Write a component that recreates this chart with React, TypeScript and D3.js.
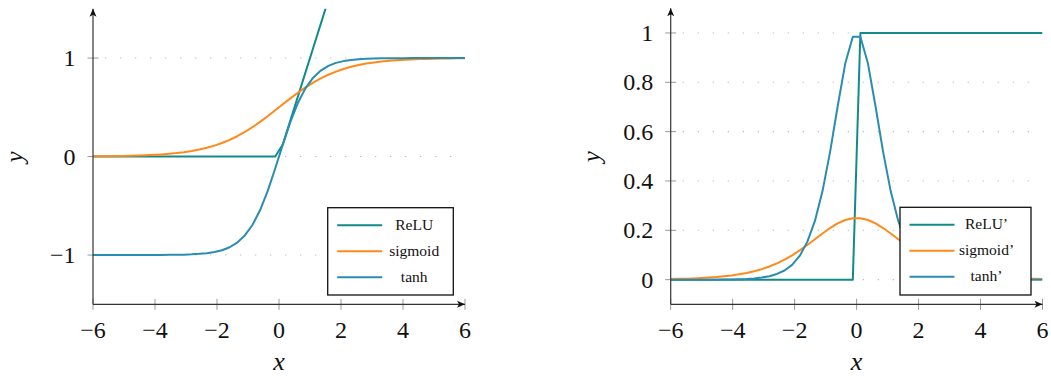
import React from "react";
import * as d3 from "d3";

// ---------- data ----------
const xValues = [
  -6.0, -5.755, -5.51, -5.265, -5.02, -4.776, -4.531, -4.286, -4.041, -3.796,
  -3.551, -3.306, -3.061, -2.816, -2.571, -2.327, -2.082, -1.837, -1.592, -1.347,
  -1.102, -0.857, -0.612, -0.367, -0.122, 0.122, 0.367, 0.612, 0.857, 1.102,
  1.347, 1.592, 1.837, 2.082, 2.327, 2.571, 2.816, 3.061, 3.306, 3.551,
  3.796, 4.041, 4.286, 4.531, 4.776, 5.02, 5.265, 5.51, 5.755, 6.0,
];

const reluValues = [
  0, 0, 0, 0, 0, 0, 0, 0, 0, 0,
  0, 0, 0, 0, 0, 0, 0, 0, 0, 0,
  0, 0, 0, 0, 0, 0.122, 0.367, 0.612, 0.857, 1.102,
  1.347, 1.592, 1.837, 2.082, 2.327, 2.571, 2.816, 3.061, 3.306, 3.551,
  3.796, 4.041, 4.286, 4.531, 4.776, 5.02, 5.265, 5.51, 5.755, 6.0,
];

const sigmoidValues = [
  0.0025, 0.0032, 0.004, 0.0051, 0.0066, 0.0084, 0.0107, 0.0136, 0.0173, 0.022,
  0.0279, 0.0354, 0.0447, 0.0564, 0.071, 0.0889, 0.1109, 0.1374, 0.1691, 0.2063,
  0.2494, 0.298, 0.3516, 0.4093, 0.4695, 0.5305, 0.5907, 0.6484, 0.702, 0.7506,
  0.7937, 0.8309, 0.8626, 0.8891, 0.9111, 0.929, 0.9436, 0.9553, 0.9646, 0.9721,
  0.978, 0.9827, 0.9864, 0.9893, 0.9916, 0.9934, 0.9949, 0.996, 0.9968, 0.9975,
];

const tanhValues = [
  -1.0, -1.0, -1.0, -1.0, -1.0, -1.0, -1.0, -1.0, -0.999, -0.999,
  -0.998, -0.997, -0.996, -0.993, -0.988, -0.981, -0.969, -0.951, -0.921, -0.873,
  -0.801, -0.695, -0.546, -0.351, -0.121, 0.121, 0.351, 0.546, 0.695, 0.801,
  0.873, 0.921, 0.951, 0.969, 0.981, 0.988, 0.993, 0.996, 0.997, 0.998,
  0.999, 0.999, 1.0, 1.0, 1.0, 1.0, 1.0, 1.0, 1.0, 1.0,
];

const reluDerivValues = [
  0, 0, 0, 0, 0, 0, 0, 0, 0, 0,
  0, 0, 0, 0, 0, 0, 0, 0, 0, 0,
  0, 0, 0, 0, 0, 1, 1, 1, 1, 1,
  1, 1, 1, 1, 1, 1, 1, 1, 1, 1,
  1, 1, 1, 1, 1, 1, 1, 1, 1, 1,
];

const sigmoidDerivValues = [
  0.0025, 0.0032, 0.004, 0.0051, 0.0066, 0.0084, 0.0106, 0.0135, 0.017, 0.0215,
  0.0271, 0.0341, 0.0427, 0.0532, 0.066, 0.081, 0.0986, 0.1185, 0.1405, 0.1637,
  0.1872, 0.2092, 0.228, 0.2418, 0.2491, 0.2491, 0.2418, 0.228, 0.2092, 0.1872,
  0.1637, 0.1405, 0.1185, 0.0986, 0.081, 0.066, 0.0532, 0.0427, 0.0341, 0.0271,
  0.0215, 0.017, 0.0135, 0.0106, 0.0084, 0.0066, 0.0051, 0.004, 0.0032, 0.0025,
];

const tanhDerivValues = [
  0.0, 0.0, 0.0, 0.0, 0.0, 0.0, 0.0, 0.001, 0.001, 0.002,
  0.003, 0.005, 0.009, 0.014, 0.023, 0.037, 0.06, 0.096, 0.153, 0.237,
  0.358, 0.517, 0.702, 0.876, 0.985, 0.985, 0.876, 0.702, 0.517, 0.358,
  0.237, 0.153, 0.096, 0.06, 0.037, 0.023, 0.014, 0.009, 0.005, 0.003,
  0.002, 0.001, 0.001, 0.0, 0.0, 0.0, 0.0, 0.0, 0.0, 0.0,
];

const xTicks = [-6, -4, -2, 0, 2, 4, 6];
const leftYTicks = [-1, 0, 1];
const rightYTicks = [0, 0.2, 0.4, 0.6, 0.8, 1];
const leftLegend = ["ReLU", "sigmoid", "tanh"];
const rightLegend = ["ReLU\u2019", "sigmoid\u2019", "tanh\u2019"];

// ---------- styling ----------
const COLORS = ["#138a8a", "#ff8a1c", "#2a8db0"];
const FONT = "'Liberation Serif', 'Times New Roman', Times, serif";
const fmt = (v: number) => String(v).replace("-", "\u2212");

type PanelProps = {
  id: string;
  left: number;
  right: number;
  top: number;
  bottom: number;
  yDomain: [number, number];
  yTicks: number[];
  series: number[][];
  legend: string[];
  legendBox: { x: number; y: number; w: number; h: number };
  yLabelX: number;
};

function Panel(p: PanelProps) {
  const x = d3.scaleLinear().domain([-6, 6]).range([p.left, p.right]);
  const y = d3.scaleLinear().domain(p.yDomain).range([p.bottom, p.top]);
  const line = d3
    .line<number>()
    .x((_, i) => x(xValues[i]))
    .y((d) => y(d));
  const lb = p.legendBox;
  const rowYs = [lb.y + 17.5, lb.y + 43.5, lb.y + 69.5];
  const textX = lb.x + 86.5;
  const arrow = 8;
  return (
    <g>
      <defs>
        <clipPath id={p.id}>
          <rect x={p.left} y={p.top} width={p.right - p.left} height={p.bottom - p.top} />
        </clipPath>
      </defs>
      {/* grid */}
      {p.yTicks.map((t) => (
        <line
          key={"g" + t}
          x1={p.left}
          x2={p.right}
          y1={y(t)}
          y2={y(t)}
          stroke="#bdbdbd"
          strokeWidth={1.1}
          strokeDasharray="1.3 13.7"
          strokeDashoffset={-12}
        />
      ))}
      {/* ticks */}
      {p.yTicks.map((t) => (
        <line key={"yt" + t} x1={p.left - 5.5} x2={p.left + 5.5} y1={y(t)} y2={y(t)} stroke="#999" strokeWidth={1} />
      ))}
      {xTicks.map((t) => (
        <line key={"xt" + t} x1={x(t)} x2={x(t)} y1={p.bottom - 5.5} y2={p.bottom + 5.5} stroke="#999" strokeWidth={1} />
      ))}
      {/* curves */}
      <g clipPath={`url(#${p.id})`}>
        {p.series.map((s, i) => (
          <path
            key={"s" + i}
            d={line(s) || ""}
            fill="none"
            stroke={COLORS[i]}
            strokeWidth={2}
            strokeLinejoin="round"
          />
        ))}
      </g>
      {/* axes */}
      <line x1={p.left} x2={p.right} y1={p.bottom} y2={p.bottom} stroke="#333" strokeWidth={1.2} />
      <line x1={p.left} x2={p.left} y1={p.bottom} y2={p.top} stroke="#333" strokeWidth={1.2} />
      <path
        d={`M${p.right},${p.bottom} L${p.right - arrow},${p.bottom - 3.5} L${p.right - arrow + 2},${p.bottom} L${p.right - arrow},${p.bottom + 3.5} Z`}
        fill="#111"
      />
      <path
        d={`M${p.left},${p.top} L${p.left - 3.5},${p.top + arrow} L${p.left},${p.top + arrow - 2} L${p.left + 3.5},${p.top + arrow} Z`}
        fill="#111"
      />
      {/* tick labels */}
      {xTicks.map((t) => (
        <text key={"xl" + t} x={x(t)} y={p.bottom + 34} textAnchor="middle" fontFamily={FONT} fontSize={24} fill="#111">
          {fmt(t)}
        </text>
      ))}
      {p.yTicks.map((t) => (
        <text key={"yl" + t} x={p.left - 17.5} y={y(t) + 8} textAnchor="end" fontFamily={FONT} fontSize={24} fill="#111">
          {fmt(t)}
        </text>
      ))}
      {/* axis titles */}
      <text x={x(0)} y={370} textAnchor="middle" fontFamily={FONT} fontStyle="italic" fontSize={26} fill="#111">
        x
      </text>
      <text
        transform={`translate(${p.yLabelX},${(p.top + p.bottom) / 2 + 0.5}) rotate(-90)`}
        textAnchor="middle"
        fontFamily={FONT}
        fontStyle="italic"
        fontSize={25}
        fill="#111"
      >
        y
      </text>
      {/* legend */}
      <rect x={lb.x} y={lb.y} width={lb.w} height={lb.h} fill="#fff" stroke="#111" strokeWidth={1.3} />
      {p.legend.map((name, i) => (
        <g key={"lg" + i}>
          <line x1={lb.x + 9.5} x2={lb.x + 54.5} y1={rowYs[i]} y2={rowYs[i]} stroke={COLORS[i]} strokeWidth={2} />
          <text x={textX} y={rowYs[i] + 4.5} textAnchor="middle" fontFamily={FONT} fontSize={15.5} fill="#111">
            {name}
          </text>
        </g>
      ))}
    </g>
  );
}

export default function App() {
  return (
    <svg
      width={1051}
      height={378}
      style={{ position: "absolute", left: 0, top: 0, background: "#fff" }}
    >
      <Panel
        id="clipL"
        left={93}
        right={465}
        top={8.8}
        bottom={304.3}
        yDomain={[-1.5, 1.5]}
        yTicks={leftYTicks}
        series={[reluValues, sigmoidValues, tanhValues]}
        legend={leftLegend}
        legendBox={{ x: 327.7, y: 207.7, w: 125.6, h: 87.3 }}
        yLabelX={23}
      />
      <Panel
        id="clipR"
        left={670.7}
        right={1042.5}
        top={8.3}
        bottom={304.3}
        yDomain={[-0.1, 1.1]}
        yTicks={rightYTicks}
        series={[reluDerivValues, sigmoidDerivValues, tanhDerivValues]}
        legend={rightLegend}
        legendBox={{ x: 900, y: 207.3, w: 131, h: 87.7 }}
        yLabelX={600}
      />
    </svg>
  );
}
